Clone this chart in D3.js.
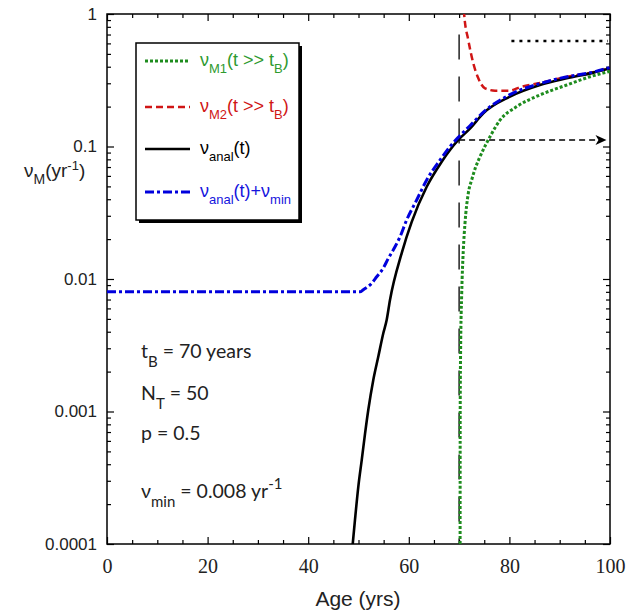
<!DOCTYPE html>
<html>
<head>
<meta charset="utf-8" />
<script src="https://d3js.org/d3.v7.min.js"></script>
<style>
  body { margin: 0; background: #fff; }
  .domain { display: none; }
  .tick line { stroke: #000; stroke-width: 1.2; }
  .ylab text { font-family: "Liberation Sans", Arial, sans-serif; font-size: 17px; fill: #222; }
  .xlab text { font-family: "Liberation Serif", "Times New Roman", serif; font-size: 20px; fill: #222; }
  .title { font-family: "Liberation Sans", Arial, sans-serif; fill: #222; }
  .note { font-family: Lato, "Open Sans", sans-serif; font-size: 19.5px; fill: #222; }
  .leg { font-family: "Liberation Sans", Arial, sans-serif; font-size: 18px; }
</style>
</head>
<body>
<svg width="636" height="610"></svg>
<script>
// nu_anal(t)
const analAge = [48.85, 49.3, 49.96, 50.64, 51.3, 51.95, 52.94, 53.94, 54.93, 55.6, 56.26, 58.59, 60.58, 63.56, 66.54, 68.19, 69.84, 72.2, 74.81, 80.12, 86.08, 91.39, 96.68, 100];
const analVal = [0.0001, 0.000152, 0.00027, 0.00043, 0.00068, 0.00103, 0.00173, 0.0026, 0.0039, 0.0049, 0.00695, 0.0157, 0.027, 0.0497, 0.0767, 0.094, 0.112, 0.137, 0.178, 0.238, 0.291, 0.327, 0.361, 0.39];

// nu_anal(t) + nu_min
const minAge = [0, 50.3, 50.95, 52.62, 53.62, 54.93, 55.92, 57.26, 58.25, 59.58, 61.57, 63.56, 66.2, 68.2, 70, 72.2, 75, 80, 86, 91, 97, 100];
const minVal = [0.008, 0.008, 0.0083, 0.00929, 0.0104, 0.0121, 0.0143, 0.0175, 0.0208, 0.0279, 0.0395, 0.0559, 0.079, 0.1, 0.119, 0.144, 0.184, 0.245, 0.298, 0.333, 0.367, 0.395];

// nu_M1(t >> tB)
const m1Age = [70.2, 70.22, 70.3, 70.52, 70.84, 71.17, 71.83, 72.5, 73.3, 74.16, 76.14, 78.13, 81.45, 86.08, 91.39, 96.02, 99.66, 100];
const m1Val = [0.0001, 0.001, 0.0029, 0.0078, 0.0166, 0.0263, 0.0444, 0.0559, 0.07, 0.0838, 0.1186, 0.158, 0.2, 0.245, 0.291, 0.336, 0.367, 0.37];

// nu_M2(t >> tB)
const m2Age = [70.9, 71.0, 71.83, 72.82, 73.82, 75.15, 77.14, 80.12, 82.1, 86.1, 91, 97, 100];
const m2Val = [1.3, 1.0, 0.636, 0.425, 0.327, 0.275, 0.264, 0.264, 0.28, 0.302, 0.333, 0.366, 0.392];

const xTicks = [0, 20, 40, 60, 80, 100];
const yTicks = [1, 0.1, 0.01, 0.001, 0.0001];
const yTickLabels = ["1", "0.1", "0.01", "0.001", "0.0001"];

const margin = { left: 107, top: 14 };
const width = 503, height = 530;

const svg = d3.select("svg");
const g = svg.append("g").attr("transform", `translate(${margin.left},${margin.top})`);

const x = d3.scaleLinear().domain([0, 100]).range([0, width]);
const y = d3.scaleLog().domain([0.0001, 1]).range([height, 0]);

svg.append("defs").append("clipPath").attr("id", "clip")
  .append("rect").attr("width", width).attr("height", height);

// minor ticks
const xMinor = d3.range(0, 101, 5).filter(d => d % 20 !== 0);
const yMinor = [];
[0.0001, 0.001, 0.01, 0.1].forEach(b => { for (let k = 2; k < 10; k++) yMinor.push(b * k); });

g.append("g").call(d3.axisLeft(y).tickValues(yMinor).tickSize(-4).tickFormat(""));
g.append("g").attr("transform", `translate(${width},0)`).call(d3.axisRight(y).tickValues(yMinor).tickSize(-4).tickFormat(""));
g.append("g").attr("class", "ylab")
  .call(d3.axisLeft(y).tickValues(yTicks).tickSize(-7).tickPadding(10).tickFormat((d, i) => yTickLabels[i]));
g.append("g").attr("transform", `translate(${width},0)`).call(d3.axisRight(y).tickValues(yTicks).tickSize(-7).tickFormat(""));

g.append("g").attr("transform", `translate(0,${height})`).call(d3.axisBottom(x).tickValues(xMinor).tickSize(-4).tickFormat(""));
g.append("g").call(d3.axisTop(x).tickValues(xMinor).tickSize(-4).tickFormat(""));
g.append("g").attr("class", "xlab").attr("transform", `translate(0,${height})`)
  .call(d3.axisBottom(x).tickValues(xTicks).tickSize(-7).tickPadding(15).tickFormat(d3.format("d")));
g.append("g").call(d3.axisTop(x).tickValues(xTicks).tickSize(-7).tickFormat(""));

g.append("rect").attr("width", width).attr("height", height)
  .attr("fill", "none").attr("stroke", "#000").attr("stroke-width", 1.5);

const plot = g.append("g").attr("clip-path", "url(#clip)");

// reference lines
plot.append("line")
  .attr("x1", x(70)).attr("x2", x(70)).attr("y1", y(0.7)).attr("y2", height)
  .attr("stroke", "#000").attr("stroke-width", 1.3).attr("stroke-dasharray", "25,17");
plot.append("line")
  .attr("x1", x(80.4)).attr("x2", x(99.6)).attr("y1", y(0.625)).attr("y2", y(0.625))
  .attr("stroke", "#000").attr("stroke-width", 2.5).attr("stroke-dasharray", "3,5");
plot.append("line")
  .attr("x1", x(70)).attr("x2", x(98.5)).attr("y1", y(0.112)).attr("y2", y(0.112))
  .attr("stroke", "#000").attr("stroke-width", 1.4).attr("stroke-dasharray", "6,4");
plot.append("path")
  .attr("d", `M${x(99.3)},${y(0.112)} l-11,-5 l3,5 l-3,5 z`)
  .attr("fill", "#000");

const line = d3.line().x(d => x(d[0])).y(d => y(d[1])).curve(d3.curveMonotoneX);
const zip = (a, b) => a.map((d, i) => [d, b[i]]);

plot.append("path").datum(zip(m1Age, m1Val)).attr("d", line)
  .attr("fill", "none").attr("stroke", "#1e8c1e").attr("stroke-width", 3).attr("stroke-dasharray", "3,2");
plot.append("path").datum(zip(m2Age, m2Val)).attr("d", line)
  .attr("fill", "none").attr("stroke", "#d01515").attr("stroke-width", 2.5).attr("stroke-dasharray", "7,4");
plot.append("path").datum(zip(analAge, analVal)).attr("d", line)
  .attr("fill", "none").attr("stroke", "#000").attr("stroke-width", 2.6);
plot.append("path").datum(zip(minAge, minVal)).attr("d", line)
  .attr("fill", "none").attr("stroke", "#0000dd").attr("stroke-width", 3).attr("stroke-dasharray", "9,3,3,3");

// legend
const lg = svg.append("g");
lg.append("rect").attr("x", 139).attr("y", 46).attr("width", 163).attr("height", 177).attr("fill", "#000");
lg.append("rect").attr("x", 136).attr("y", 43).attr("width", 163).attr("height", 177)
  .attr("fill", "#fff").attr("stroke", "#000").attr("stroke-width", 1.5);

const legItems = [
  { y: 61, color: "#1e8c1e", text: "#2e9a2e", dash: "3,2", w: 3, parts: [["ν", 0], ["M1", 1], ["(t >> t", 0], ["B", 1], [")", 0]] },
  { y: 107, color: "#d01515", text: "#d01515", dash: "7,4", w: 2.5, parts: [["ν", 0], ["M2", 1], ["(t >> t", 0], ["B", 1], [")", 0]] },
  { y: 149, color: "#000", text: "#000", dash: null, w: 2.6, parts: [["ν", 0], ["anal", 1], ["(t)", 0]] },
  { y: 192, color: "#0000dd", text: "#1515dd", dash: "9,3,3,3", w: 3, parts: [["ν", 0], ["anal", 1], ["(t)+ν", 0], ["min", 1]] }
];
legItems.forEach(it => {
  lg.append("line").attr("x1", 145).attr("x2", 190).attr("y1", it.y).attr("y2", it.y)
    .attr("stroke", it.color).attr("stroke-width", it.w).attr("stroke-dasharray", it.dash);
  const t = lg.append("text").attr("class", "leg").attr("x", 200).attr("y", it.y + 5).attr("fill", it.text);
  let sub = false;
  it.parts.forEach(p => {
    const s = t.append("tspan").text(p[0]);
    if (p[1] && !sub) { s.attr("dy", 7).style("font-size", "13px"); sub = true; }
    else if (!p[1] && sub) { s.attr("dy", -7); sub = false; }
  });
});

// annotations
const notes = svg.append("g").attr("class", "note");
const n1 = notes.append("text").attr("x", 141).attr("y", 358);
n1.append("tspan").text("t");
n1.append("tspan").attr("dy", 9).style("font-size", "15px").text("B");
n1.append("tspan").attr("dy", -9).text(" = 70 years");
const n2 = notes.append("text").attr("x", 141).attr("y", 400);
n2.append("tspan").text("N");
n2.append("tspan").attr("dy", 9).style("font-size", "15px").text("T");
n2.append("tspan").attr("dy", -9).text(" = 50");
notes.append("text").attr("x", 141).attr("y", 440).text("p = 0.5");
const n4 = notes.append("text").attr("x", 141).attr("y", 498);
n4.append("tspan").text("ν");
n4.append("tspan").attr("dy", 9).style("font-size", "15px").text("min");
n4.append("tspan").attr("dy", -9).text(" = 0.008 yr");
n4.append("tspan").attr("dy", -9).style("font-size", "15px").text("-1");

// axis titles
svg.append("text").attr("class", "title").attr("x", 358).attr("y", 606)
  .attr("text-anchor", "middle").style("font-size", "21px").text("Age (yrs)");
const yt = svg.append("text").attr("class", "title").attr("x", 24).attr("y", 177).style("font-size", "19px");
yt.append("tspan").text("ν");
yt.append("tspan").attr("dy", 7).style("font-size", "14px").text("M");
yt.append("tspan").attr("dy", -7).text("(yr");
yt.append("tspan").attr("dy", -7).style("font-size", "13px").text("-1");
yt.append("tspan").attr("dy", 7).text(")");
</script>
</body>
</html>
